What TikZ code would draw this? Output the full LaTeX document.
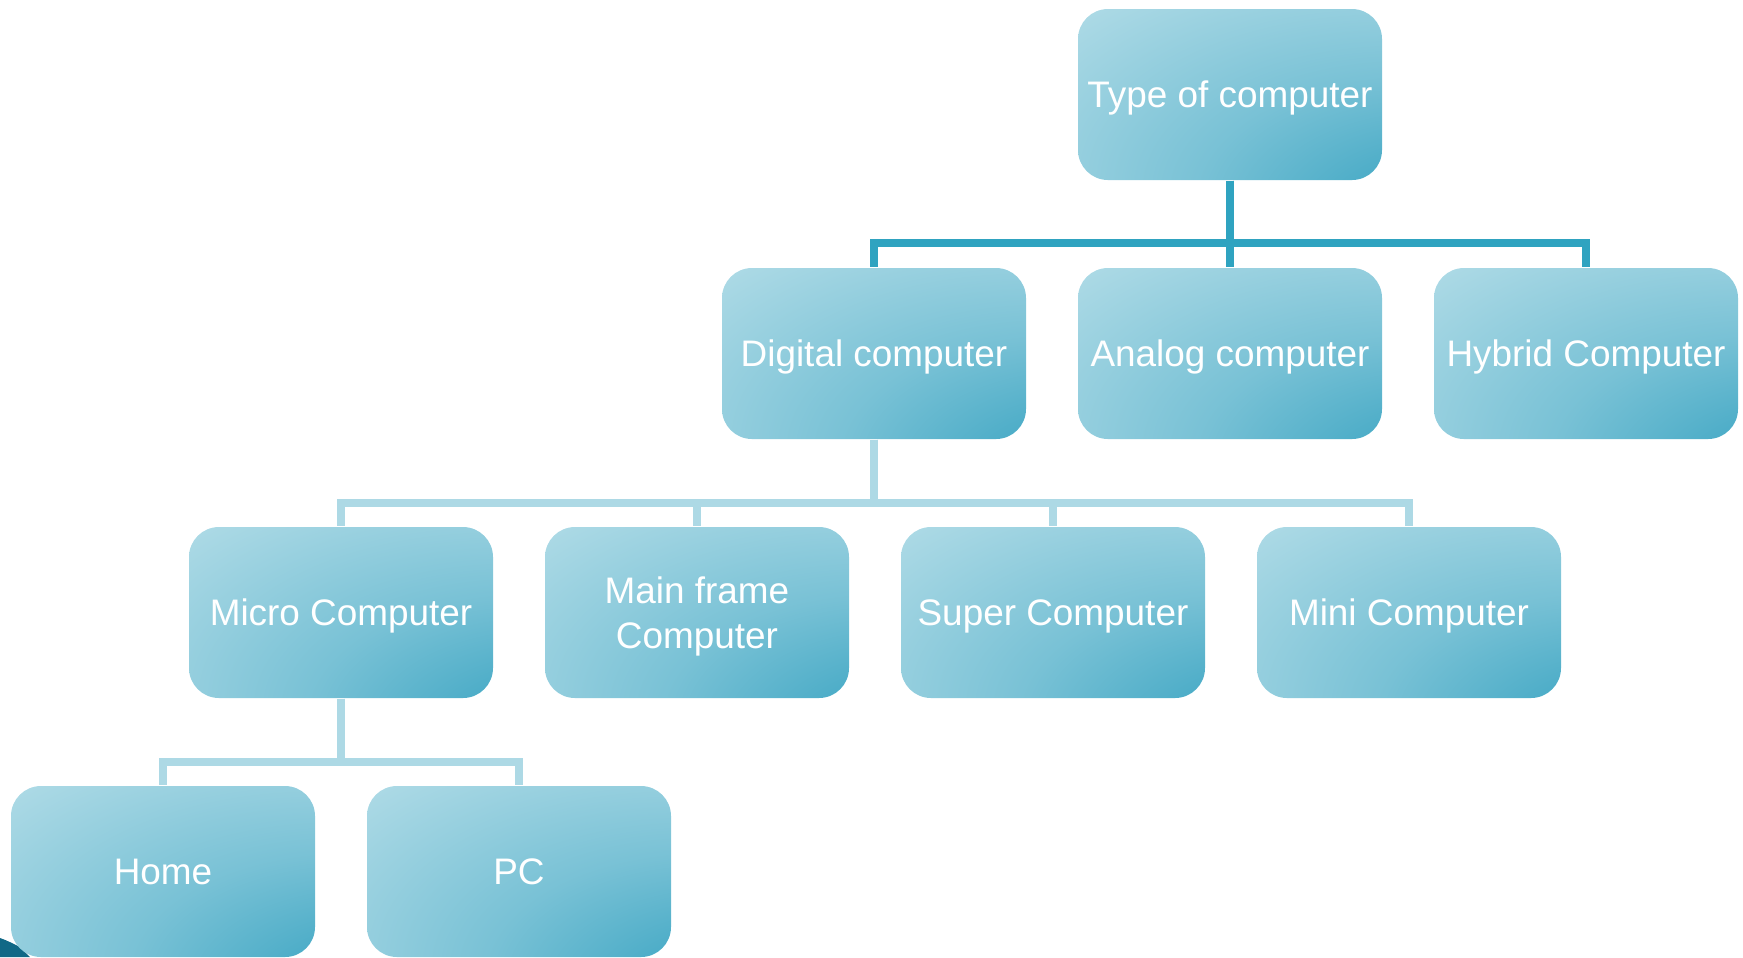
\documentclass[tikz,border=0pt]{standalone}
\usepackage{fontspec}
\setmainfont{Liberation Sans}
\definecolor{claro}{RGB}{171,217,229}
\definecolor{escuro}{RGB}{45,158,190}
\definecolor{linhaforte}{RGB}{47,163,192}
\definecolor{linhaclara}{RGB}{173,217,229}
\definecolor{fundo}{RGB}{16,104,134}
\pgfdeclareradialshading{degrade}{\pgfpoint{48bp}{-48bp}}{color(0bp)=(escuro); color(16bp)=(escuro!85!claro); color(36bp)=(escuro!40!claro); color(60bp)=(claro); color(100bp)=(claro)}
\tikzset{
  caixa/.style={rectangle, rounded corners=0.3cm, minimum width=3.04cm, minimum height=1.71cm, shade, shading=degrade, text=white, align=center, inner sep=0pt, text depth=0pt, font=\fontsize{10.5}{12.6}\selectfont},
  ligforte/.style={draw=linhaforte, line width=2.3pt},
  ligclara/.style={draw=linhaclara, line width=2.3pt}
}
\begin{document}
\begin{tikzpicture} %Inicio do desenho
    \useasboundingbox (0,0) rectangle (17.43,-9.57); %Margens
        %Canto escuro
    \fill[fundo] (0,-9.38) .. controls (0.06,-9.40) and (0.12,-9.43) .. (0.2,-9.47) -- (0.3,-9.57) -- (0,-9.57) -- cycle;
        %Caixas
    \node[caixa] (tipo) at (12.30,-0.945) {Type of computer};
    \node[caixa] (digital) at (8.74,-3.535) {Digital computer};
    \node[caixa] (analog) at (12.30,-3.535) {Analog computer};
    \node[caixa] (hibrido) at (15.86,-3.535) {Hybrid Computer};
    \node[caixa] (micro) at (3.41,-6.125) {Micro Computer};
    \node[caixa] (mainframe) at (6.97,-6.125) {Main frame\\Computer};
    \node[caixa] (super) at (10.53,-6.125) {Super Computer};
    \node[caixa] (mini) at (14.09,-6.125) {Mini Computer};
    \node[caixa] (home) at (1.63,-8.715) {Home};
    \node[caixa] (pc) at (5.19,-8.715) {PC};
        %Ligacoes
    \foreach \filho in {digital,analog,hibrido}
        \draw[ligforte] (tipo.south) -- ++(0,-0.62) -| (\filho.north);
    \foreach \filho in {micro,mainframe,super,mini}
        \draw[ligclara] (digital.south) -- ++(0,-0.63) -| (\filho.north);
    \foreach \filho in {home,pc}
        \draw[ligclara] (micro.south) -- ++(0,-0.63) -| (\filho.north);
\end{tikzpicture}
\end{document}
